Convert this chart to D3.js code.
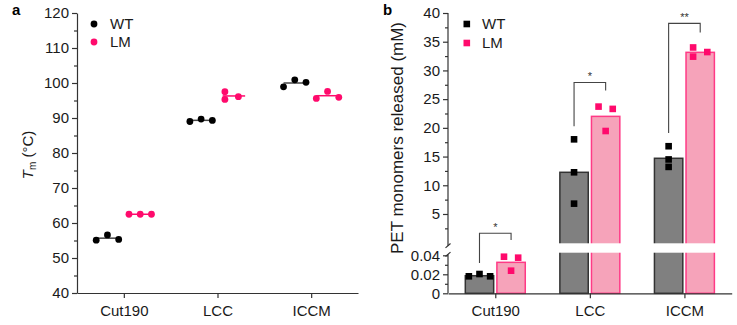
<!DOCTYPE html>
<html>
<head>
<meta charset="utf-8">
<script src="https://cdn.jsdelivr.net/npm/d3@7"></script>
<style>
  body { margin: 0; background: #fff; }
  svg { display: block; font-family: 'Liberation Sans', Arial, sans-serif; }
  .axis text { font-size: 15px; fill: #1a1a1a; }
  .axis path, .axis line { stroke: #333; stroke-width: 1.2; }
</style>
</head>
<body>
<svg id="chart" width="737" height="325"></svg>
<script>
const categories = ['Cut190', 'LCC', 'ICCM'];

// panel a: melting temperature (°C), three replicates each
const tmWT = [[55.1, 56.6, 55.3], [89.0, 89.7, 89.3], [98.9, 100.9, 100.2]];
const tmLM = [[62.5, 62.5, 62.5], [97.5, 95.3, 96.1], [95.6, 97.6, 95.9]];
const tmJitterWT = [[-1, 0, 1], [-1, 0, 1], [-1, 0, 1]];
const tmJitterLM = [[-1, 0, 1], [-0.8, -0.8, 0.4], [-1, 0, 1]];
const tmTicks = [40, 50, 60, 70, 80, 90, 100, 110, 120];

// panel b: PET monomers released (mM)
const barWT = [0.0185, 12.26, 14.7];
const barLM = [0.0326, 22.0, 33.15];
const relWT = [[0.0179, 0.0203, 0.0179], [18.0, 12.26, 6.8], [16.8, 14.5, 13.2]];
const relLM = [[0.0385, 0.0238, 0.0375], [23.7, 19.45, 23.3], [34.0, 32.4, 33.2]];
const relJitterWT = [[-1.5, 0, 1.5], [0, 0, 0], [0, 0, 0]];
const relJitterLM = [[-1, 0, 1], [-1, 0, 1], [-1, -1, 1]];
const upperTicks = [5, 10, 15, 20, 25, 30, 35, 40];
const lowerTicks = [0, 0.02, 0.04];

// significance brackets: top in upper segment, legs as [segment, value]
const sigTop = [1.65, 27.9, 38.2];
const sigLeft = [['low', 0.032], ['up', 20.3], ['up', 19.1]];
const sigRight = [['up', 0.45], ['up', 26.5], ['up', 36.6]];
const sigLabel = ['*', '*', '**'];

const colWT = '#000000';
const colLM = '#ff0a6c';
const barFillWT = '#808080', barStrokeWT = '#333333';
const barFillLM = '#f6a3ba', barStrokeLM = '#ff3a86';

const svg = d3.select('#chart');

// ---------- panel a ----------
const xa = d3.scaleLinear().domain([0.5, 3.5]).range([77, 358]);
const ya = d3.scaleLinear().domain([40, 120]).range([293, 13]);
const groupOff = 0.175, slotA = 0.12;

const ga = svg.append('g');

ga.append('g').attr('class', 'axis')
  .attr('transform', 'translate(77,0)')
  .call(d3.axisLeft(ya).tickValues(d3.range(45, 120, 10)).tickSize(3).tickFormat(''))
  .call(g => g.select('.domain').remove());
ga.append('g').attr('class', 'axis')
  .attr('transform', 'translate(77,0)')
  .call(d3.axisLeft(ya).tickValues(tmTicks).tickSize(5).tickSizeOuter(0).tickPadding(3));
ga.append('g').attr('class', 'axis')
  .attr('transform', 'translate(0,293)')
  .call(d3.axisBottom(xa).tickValues([1, 2, 3]).tickSize(5).tickSizeOuter(0).tickPadding(7)
    .tickFormat((d, i) => categories[i]));

function drawTm(vals, jit, off, color, lineColor) {
  vals.forEach((reps, i) => {
    const c = i + 1 + off;
    ga.append('line')
      .attr('x1', xa(c - slotA)).attr('x2', xa(c + slotA))
      .attr('y1', ya(d3.mean(reps))).attr('y2', ya(d3.mean(reps)))
      .attr('stroke', lineColor).attr('stroke-width', 1.5);
    ga.selectAll(null).data(reps).join('circle')
      .attr('cx', (d, j) => xa(c + jit[i][j] * slotA))
      .attr('cy', d => ya(d))
      .attr('r', 3.4)
      .attr('fill', color);
  });
}
drawTm(tmWT, tmJitterWT, -groupOff, colWT, '#444');
drawTm(tmLM, tmJitterLM, groupOff, colLM, colLM);

ga.append('text')
  .attr('transform', 'translate(33,155) rotate(-90)')
  .attr('text-anchor', 'middle')
  .attr('font-size', 15).attr('fill', '#1a1a1a')
  .call(t => {
    t.append('tspan').attr('font-style', 'italic').text('T');
    t.append('tspan').attr('font-size', 10).attr('dy', 3).text('m');
    t.append('tspan').attr('dy', -3).text(' (°C)');
  });

// legend a
[['WT', colWT], ['LM', colLM]].forEach(([name, c], i) => {
  ga.append('circle').attr('cx', 94).attr('cy', 24 + i * 18).attr('r', 3.4).attr('fill', c);
  ga.append('text').attr('x', 110).attr('y', 29 + i * 18).attr('font-size', 15).attr('fill', '#1a1a1a').text(name);
});

// ---------- panel b ----------
const xb = d3.scaleLinear().domain([0.5, 3.5]).range([448, 731.7]);
const yUp = d3.scaleLinear().domain([0, 40]).range([242.7, 13]);
const yLow = d3.scaleLinear().domain([0, 0.04]).range([293.3, 255.3]);
const lowMax = 0.04;
const yb = v => (v > lowMax ? yUp(v) : yLow(v));
const yseg = ([s, v]) => (s === 'up' ? yUp(v) : yLow(v));
const barOff = 0.167, barW = 0.3, slotB = 0.075;

const gb = svg.append('g');

function drawBars(vals, off, fill, stroke) {
  gb.selectAll(null).data(vals).join('rect')
    .attr('x', (d, i) => xb(i + 1 + off - barW / 2))
    .attr('width', xb(1 + barW) - xb(1))
    .attr('y', d => yb(d))
    .attr('height', d => yLow(0) - yb(d))
    .attr('fill', fill).attr('stroke', stroke).attr('stroke-width', 1.5);
}
drawBars(barWT, -barOff, barFillWT, barStrokeWT);
drawBars(barLM, barOff, barFillLM, barStrokeLM);

// axis break gap
gb.append('rect')
  .attr('x', 449).attr('width', 284)
  .attr('y', yUp(0) + 0.6).attr('height', yLow(lowMax) - yUp(0) - 3.2)
  .attr('fill', '#fff');

function drawRel(vals, jit, off, color) {
  vals.forEach((reps, i) => {
    const c = i + 1 + off;
    gb.selectAll(null).data(reps).join('rect')
      .attr('x', (d, j) => xb(c + jit[i][j] * slotB) - 3.3)
      .attr('y', d => yb(d) - 3.3)
      .attr('width', 6.6).attr('height', 6.6)
      .attr('fill', color);
  });
}
drawRel(relWT, relJitterWT, -barOff, colWT);
drawRel(relLM, relJitterLM, barOff, colLM);

// significance brackets
categories.forEach((c, i) => {
  const xl = xb(i + 1 - barOff), xr = xb(i + 1 + barOff), yt = yUp(sigTop[i]);
  gb.append('path')
    .attr('d', `M${xl},${yseg(sigLeft[i])}V${yt}H${xr}V${yseg(sigRight[i])}`)
    .attr('fill', 'none').attr('stroke', '#444').attr('stroke-width', 1.1);
  gb.append('text')
    .attr('x', (xl + xr) / 2).attr('y', yt - 2)
    .attr('text-anchor', 'middle').attr('font-size', 11).attr('fill', '#333')
    .text(sigLabel[i]);
});

// axes
const upAxis = gb.append('g').attr('class', 'axis').attr('transform', 'translate(448,0)');
upAxis.call(d3.axisLeft(yUp).tickValues(d3.range(2.5, 40, 5)).tickSize(3).tickFormat(''));
upAxis.append('g')
  .call(d3.axisLeft(yUp).tickValues(upperTicks).tickSize(5).tickPadding(3));
upAxis.selectAll('.domain').remove();

const lowAxis = gb.append('g').attr('class', 'axis').attr('transform', 'translate(448,0)');
lowAxis.call(d3.axisLeft(yLow).tickValues([0.01, 0.03]).tickSize(3).tickFormat(''));
lowAxis.append('g')
  .call(d3.axisLeft(yLow).tickValues(lowerTicks).tickSize(5).tickPadding(3)
    .tickFormat(d => (d === 0 ? '0' : d3.format('.2f')(d))));
lowAxis.selectAll('.domain').remove();

const axisLine = d3.line();
gb.append('path').attr('d', axisLine([[448, yUp(40)], [448, yUp(0) + 3]]))
  .attr('stroke', '#333').attr('stroke-width', 1.2);
gb.append('path').attr('d', axisLine([[448, yLow(lowMax) - 1], [448, yLow(0)]]))
  .attr('stroke', '#333').attr('stroke-width', 1.2);
[yUp(0) + 3, yLow(lowMax) - 1].forEach(yy => {
  gb.append('path').attr('d', axisLine([[445.5, yy + 2.2], [450.5, yy - 2.2]]))
    .attr('stroke', '#333').attr('stroke-width', 1.2);
});

gb.append('g').attr('class', 'axis')
  .attr('transform', `translate(0,${yLow(0)})`)
  .call(d3.axisBottom(xb).tickValues([1, 2, 3]).tickSize(5).tickSizeOuter(0).tickPadding(7)
    .tickFormat((d, i) => categories[i]));

gb.append('text')
  .attr('transform', 'translate(403,138) rotate(-90)')
  .attr('text-anchor', 'middle')
  .attr('font-size', 17).attr('fill', '#1a1a1a')
  .text('PET monomers released (mM)');

// legend b
[['WT', colWT], ['LM', colLM]].forEach(([name, c], i) => {
  gb.append('rect').attr('x', 463.5).attr('y', 20.7 + i * 19).attr('width', 6.6).attr('height', 6.6).attr('fill', c);
  gb.append('text').attr('x', 482).attr('y', 29 + i * 19).attr('font-size', 15).attr('fill', '#1a1a1a').text(name);
});

// panel letters
svg.append('text').attr('x', 12).attr('y', 15).attr('font-size', 15).attr('font-weight', 'bold').text('a');
svg.append('text').attr('x', 383).attr('y', 15).attr('font-size', 15).attr('font-weight', 'bold').text('b');
</script>
</body>
</html>
